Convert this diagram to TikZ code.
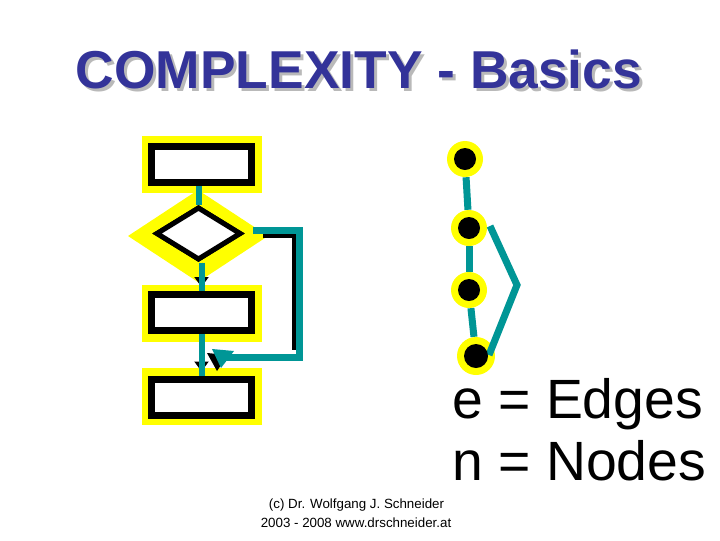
\documentclass[tikz,border=0pt]{standalone}
\usepackage{fontspec}
\setmainfont{Liberation Sans}
\usetikzlibrary{shapes.geometric,arrows.meta,calc}
\definecolor{ttl}{RGB}{51,51,153}
\definecolor{tl}{RGB}{0,150,150}
\definecolor{yl}{RGB}{255,255,0}
\definecolor{shd}{RGB}{185,185,185}
\begin{document}
\begin{tikzpicture}[x=0.75pt,y=-0.75pt,
  ybox/.style={rectangle,fill=yl,draw=none,minimum width=90pt,minimum height=42.75pt,inner sep=0pt,outer sep=0pt},
  bbox/.style={rectangle,fill=white,draw=black,line width=5.25pt,minimum width=75pt,minimum height=27pt,inner sep=0pt},
  ydia/.style={diamond,fill=yl,draw=none,minimum width=105pt,minimum height=69pt,inner sep=0pt,outer sep=0pt},
  bdia/.style={diamond,fill=white,draw=black,line width=3.75pt,minimum width=63.75pt,minimum height=39.75pt,inner sep=0pt},
  ycirc/.style={circle,fill=yl,draw=none,minimum size=27pt,inner sep=0pt},
  bcirc/.style={circle,fill=black,draw=none,minimum size=16.5pt,inner sep=0pt},
  tline/.style={draw=tl,line width=4.5pt},
  loopline/.style={draw=tl,line width=5.25pt},
  shadowline/.style={draw=black,line width=3pt},
  karrow/.style={draw=black,line width=1.5pt,-{Triangle[length=7.5pt,width=10.5pt]}},
  gline/.style={draw=tl,line width=5.25pt},
  bigtext/.style={anchor=base west,inner sep=0pt,font=\fontsize{41.5}{41.5}\selectfont},
  foot/.style={anchor=base,inner sep=0pt,font=\fontsize{10}{12}\selectfont},
  titlefont/.style={anchor=base,inner sep=0pt,font=\bfseries\fontsize{40}{40}\selectfont}
]
\useasboundingbox (0,0) rectangle (720,540);
\fill[white] (0,0) rectangle (720,540);

% title with shadow
\node[titlefont,text=ttl] (title) at (359,88)
  {\rlap{\hspace{2.25pt}\raisebox{-2.25pt}{\color{shd}COMPLEXITY - Basics}}COMPLEXITY - Basics};

% yellow backgrounds
\node[ybox] (r1y) at (202,164.5) {};
\node[ydia] (dy) at (198,236) {};
\node[ybox] (r2y) at (202,313) {};
\node[ybox] (r3y) at (202,396.5) {};

% loop connector
\coordinate (ls) at (253,230);
\coordinate (lc1) at (299,230);
\coordinate (lc2) at (299,357);
\coordinate (le) at (226,357);
\draw[shadowline] (263,236) -- (293.5,236) -- (293.5,350);
\draw[loopline] (ls) -- (lc1) -- (lc2) -- (le);
\fill[black] (207,353) -- (228,355) -- (217,371) -- cycle;
\fill[tl] (212,349) -- (234,351) -- (221,368) -- cycle;

% black shapes
\node[bbox] (r1b) at (201.5,164.5) {};
\node[bdia] (db) at (198.5,233.5) {};
\node[bbox] (r2b) at (201.5,312.5) {};
\node[bbox] (r3b) at (201.5,397) {};

% flow connectors
\draw[tline] (db.north |- r1b.south) -- (db.north);
\draw[karrow] (r2b.north |- db.south) -- ($(r2b.north)+(0,-4)$);
\draw[tline] (r2b.north |- db.south) -- (r2b.north);
\draw[karrow] (r2b.south) -- ($(r3b.north)+(0,-4)$);
\draw[tline] (r2b.south) -- (r3b.north);
% borders over connector ends
\node[bbox] at (201.5,164.5) {};
\node[bbox] at (201.5,312.5) {};
\node[bbox] at (201.5,397) {};
\node[bdia] at (198.5,233.5) {};

% graph
\node[ycirc] (n1) at (465,159) {};
\node[ycirc] (n2) at (469,228) {};
\node[ycirc] (n3) at (469,290) {};
\node[ycirc,minimum size=28.5pt] (n4) at (476,356) {};
\draw[gline] (n1) -- (n2);
\draw[gline] (n2) -- (n3);
\draw[gline] (n3) -- (n4);
\coordinate (bend) at (517,285);
\draw[gline] ($(n2)+(21,-2)$) -- (bend) -- ($(n4)+(13,-1)$);
\node[bcirc] (n1b) at (n1) {};
\node[bcirc] (n2b) at (n2) {};
\node[bcirc] (n3b) at (n3) {};
\node[bcirc,minimum size=18pt] (n4b) at (n4) {};

% legend
\node[bigtext] (etext) at (452,418) {e = Edges};
\node[bigtext] (ntext) at (452,480) {n = Nodes};

% footer
\node[foot] (f1) at (356.5,508) {(c) Dr. Wolfgang J. Schneider};
\node[foot] (f2) at (356,527) {2003 - 2008 www.drschneider.at};
\end{tikzpicture}
\end{document}
